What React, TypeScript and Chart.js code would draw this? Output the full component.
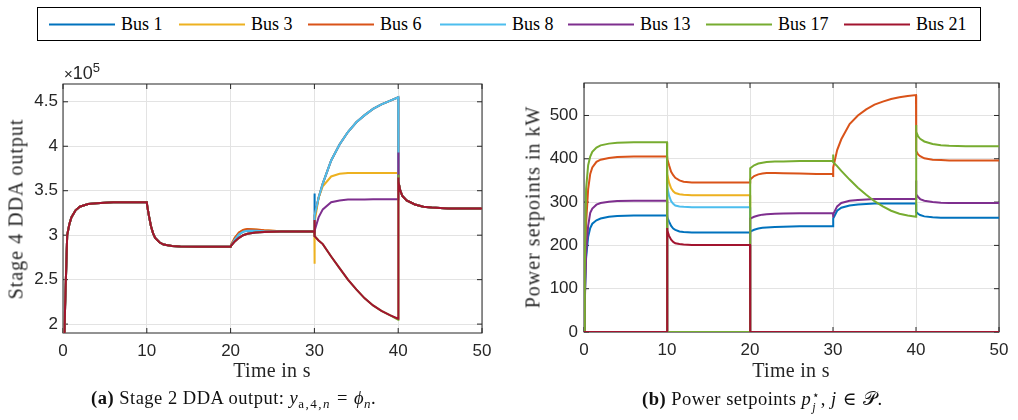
import React, { useEffect, useRef } from "react";
import { Chart, registerables } from "chart.js";

Chart.register(...registerables);

// ---------- data ----------
const TIME = [
  0, 0.1, 0.25, 0.5, 0.75, 1, 1.5, 2, 3, 4, 6, 8, 10,
  10, 10.05, 10.25, 10.5, 10.75, 11, 11.5, 12, 13, 14, 16, 18, 20,
  20, 20.05, 20.5, 21, 21.5, 22, 23, 24, 26, 28, 30,
  30, 30.05, 30.5, 31, 32, 33, 34, 35, 36, 37, 38, 39, 40,
  40, 40.05, 40.25, 40.5, 41, 42, 43, 44, 46, 48, 50,
];

const BUS_NAMES = ["Bus 1", "Bus 3", "Bus 6", "Bus 8", "Bus 13", "Bus 17", "Bus 21"];
const BUS_COLORS = ["#0072BD", "#EDB120", "#D95319", "#4DBEEE", "#7E2F8E", "#77AC30", "#A2142F"];

const X_TICKS = [0, 10, 20, 30, 40, 50];
const DDA_Y_TICKS = [2, 2.5, 3, 3.5, 4, 4.5];
const POWER_Y_TICKS = [0, 100, 200, 300, 400, 500];

// Stage 4 DDA output (x 10^5), by time segment
const DDA_RISE = [1.0, 1.5, 2.2, 3.0, 3.12, 3.2, 3.28, 3.32, 3.35, 3.36, 3.37, 3.37, 3.37];
const DDA_DROP = [3.37, 3.33, 3.22, 3.1, 3.02, 2.97, 2.92, 2.895, 2.878, 2.872, 2.87, 2.87, 2.87];
const DDA_STEP3_SLOW = [2.87, 2.88, 2.93, 2.97, 3.0, 3.015, 3.03, 3.035, 3.04, 3.04, 3.04];
const DDA_STEP3_FAST = [2.87, 2.89, 2.97, 3.03, 3.06, 3.07, 3.065, 3.055, 3.045, 3.04, 3.04];
const DDA_STEP3_MID = [2.87, 2.885, 2.95, 3.01, 3.04, 3.05, 3.05, 3.045, 3.04, 3.04, 3.04];
const DDA_STEP4_BUS1 = [3.47, 3.2, 3.42, 3.58, 3.84, 4.02, 4.16, 4.27, 4.35, 4.42, 4.47, 4.51, 4.55];
const DDA_STEP4_BUS8 = [3.2, 3.22, 3.42, 3.58, 3.84, 4.02, 4.16, 4.27, 4.35, 4.42, 4.47, 4.51, 4.55];
const DDA_STEP4_BUS3 = [2.68, 3.15, 3.42, 3.55, 3.66, 3.69, 3.7, 3.7, 3.7, 3.7, 3.7, 3.7, 3.7];
const DDA_STEP4_BUS6 = [3.2, 3.22, 3.42, 3.58, 3.84, 4.02, 4.16, 4.27, 4.35, 4.42, 4.47, 4.51, 4.55];
const DDA_STEP4_BUS13 = [2.98, 3.05, 3.2, 3.29, 3.37, 3.39, 3.4, 3.4, 3.4, 3.405, 3.405, 3.405, 3.405];
const DDA_STEP4_BUS17 = [3.04, 2.99, 2.94, 2.9, 2.76, 2.63, 2.5, 2.39, 2.29, 2.21, 2.15, 2.1, 2.05];
const DDA_STEP4_BUS21 = [3.17, 2.99, 2.94, 2.9, 2.76, 2.63, 2.5, 2.39, 2.29, 2.21, 2.15, 2.1, 2.06];
const DDA_SETTLE = [3.63, 3.6, 3.5, 3.44, 3.39, 3.345, 3.32, 3.31, 3.3, 3.3, 3.3];
const DDA_SETTLE_BUS13 = [3.93, 3.6, 3.5, 3.44, 3.39, 3.345, 3.32, 3.31, 3.3, 3.3, 3.3];
const DDA_SETTLE_BUS17 = [3.68, 3.6, 3.5, 3.44, 3.39, 3.345, 3.32, 3.31, 3.3, 3.3, 3.3];
const DDA_SETTLE_BUS21 = [3.65, 3.6, 3.5, 3.44, 3.39, 3.345, 3.32, 3.31, 3.3, 3.3, 3.3];

const DDA_BUS1 = [...DDA_RISE, ...DDA_DROP, ...DDA_STEP3_MID, ...DDA_STEP4_BUS1, ...DDA_SETTLE];
const DDA_BUS3 = [...DDA_RISE, ...DDA_DROP, ...DDA_STEP3_FAST, ...DDA_STEP4_BUS3, ...DDA_SETTLE];
const DDA_BUS6 = [...DDA_RISE, ...DDA_DROP, ...DDA_STEP3_FAST, ...DDA_STEP4_BUS6, ...DDA_SETTLE];
const DDA_BUS8 = [...DDA_RISE, ...DDA_DROP, ...DDA_STEP3_MID, ...DDA_STEP4_BUS8, ...DDA_SETTLE];
const DDA_BUS13 = [...DDA_RISE, ...DDA_DROP, ...DDA_STEP3_SLOW, ...DDA_STEP4_BUS13, ...DDA_SETTLE_BUS13];
const DDA_BUS17 = [...DDA_RISE, ...DDA_DROP, ...DDA_STEP3_SLOW, ...DDA_STEP4_BUS17, ...DDA_SETTLE_BUS17];
const DDA_BUS21 = [...DDA_RISE, ...DDA_DROP, ...DDA_STEP3_SLOW, ...DDA_STEP4_BUS21, ...DDA_SETTLE_BUS21];

// Power setpoints in kW
const P_BUS1 = [
  0, 80, 170, 220, 240, 250, 258, 262, 266, 268, 269, 269, 269,
  269, 265, 255, 245, 239, 236, 232, 231, 230, 230, 230, 230, 230,
  230, 232, 236, 239, 240.5, 241.5, 242.5, 243, 244, 244, 244,
  256, 262, 280, 287, 292, 294.5, 295.5, 296.5, 296.5, 296.5, 296.5, 296.5, 296.5,
  280, 277, 273, 270, 267, 265, 264, 264, 264, 264, 264,
];
const P_BUS3 = [
  0, 0, 0, 0, 0, 0, 0, 0, 0, 0, 0, 0, 0,
  375, 365, 345, 332, 325, 321, 318, 317, 316, 316, 316, 316, 316,
  0, 0, 0, 0, 0, 0, 0, 0, 0, 0, 0,
  0, 0, 0, 0, 0, 0, 0, 0, 0, 0, 0, 0, 0,
  0, 0, 0, 0, 0, 0, 0, 0, 0, 0, 0,
];
const P_BUS6 = [
  0, 100, 250, 330, 365, 380, 393, 398, 402, 404, 405, 405, 405,
  405, 400, 385, 370, 362, 356, 350, 347, 345.5, 345, 345, 345, 345,
  348, 352, 360, 364, 366, 367, 367, 366.5, 366, 365, 365,
  358, 380, 420, 445, 480, 500, 514, 525, 532, 538, 542, 545, 547,
  425, 418, 410, 406, 401, 398, 397, 396, 396, 396, 396,
];
const P_BUS8 = [
  0, 0, 0, 0, 0, 0, 0, 0, 0, 0, 0, 0, 0,
  345, 335, 315, 302, 296, 292, 290, 289, 288, 288, 288, 288, 288,
  0, 0, 0, 0, 0, 0, 0, 0, 0, 0, 0,
  0, 0, 0, 0, 0, 0, 0, 0, 0, 0, 0, 0, 0,
  0, 0, 0, 0, 0, 0, 0, 0, 0, 0, 0,
];
const P_BUS13 = [
  0, 70, 180, 245, 275, 285, 294, 298, 301, 302.5, 303, 303, 303,
  0, 0, 0, 0, 0, 0, 0, 0, 0, 0, 0, 0, 0,
  258, 262, 266, 269, 271, 272, 273, 273.5, 274, 274, 274,
  265, 272, 290, 298, 303, 305, 306, 307, 307, 307, 307, 307, 307,
  350, 318, 312, 307, 303, 300, 298.5, 298, 298, 298, 298,
];
const P_BUS17 = [
  0, 150, 330, 385, 405, 416, 426, 431, 435, 437, 438, 438, 438,
  0, 0, 0, 0, 0, 0, 0, 0, 0, 0, 0, 0, 0,
  372, 378, 385, 389, 391, 392.5, 393.5, 394, 395, 395, 395,
  410, 392, 383, 372, 352, 333, 317, 302, 290, 280, 273, 269, 266,
  478, 462, 452, 446, 440, 434, 431.5, 430, 429, 429, 429,
];
const P_BUS21 = [
  0, 0, 0, 0, 0, 0, 0, 0, 0, 0, 0, 0, 0,
  240, 235, 222, 213, 208, 205, 203, 202, 201, 201, 201, 201, 201,
  0, 0, 0, 0, 0, 0, 0, 0, 0, 0, 0,
  0, 0, 0, 0, 0, 0, 0, 0, 0, 0, 0, 0, 0,
  0, 0, 0, 0, 0, 0, 0, 0, 0, 0, 0,
];

const DDA_SERIES = [DDA_BUS1, DDA_BUS3, DDA_BUS6, DDA_BUS8, DDA_BUS13, DDA_BUS17, DDA_BUS21];
const POWER_SERIES = [P_BUS1, P_BUS3, P_BUS6, P_BUS8, P_BUS13, P_BUS17, P_BUS21];

// ---------- styling ----------
const AXIS_COLOR = "#262626";
const GRID_COLOR = "#e3e3e3";
const SERIF = "'Liberation Serif', 'DejaVu Serif', serif";
const SANS = "'Liberation Sans', Arial, sans-serif";
const LEGEND_LINE_LEFT = [49, 179, 308, 440, 568, 706, 844];

const matlabAxes = {
  id: "matlabAxes",
  beforeDatasetsDraw(chart: any) {
    const { ctx, chartArea: a, scales } = chart;
    const L = 5;
    ctx.save();
    ctx.strokeStyle = AXIS_COLOR;
    ctx.lineWidth = 1;
    ctx.beginPath();
    scales.x.ticks.forEach((t: any) => {
      const px = scales.x.getPixelForValue(t.value);
      ctx.moveTo(px, a.bottom);
      ctx.lineTo(px, a.bottom - L);
      ctx.moveTo(px, a.top);
      ctx.lineTo(px, a.top + L);
    });
    scales.y.ticks.forEach((t: any) => {
      const py = scales.y.getPixelForValue(t.value);
      ctx.moveTo(a.left, py);
      ctx.lineTo(a.left + L, py);
      ctx.moveTo(a.right, py);
      ctx.lineTo(a.right - L, py);
    });
    ctx.stroke();
    ctx.strokeRect(a.left, a.top, a.right - a.left, a.bottom - a.top);
    ctx.restore();
  },
};

type PanelProps = {
  left: number;
  top: number;
  width: number;
  height: number;
  series: number[][];
  yTicks: number[];
  yMin: number;
  yMax: number;
  yWidth: number;
  xHeight: number;
  padTop: number;
  padRight: number;
  yPad: number;
};

function Panel(p: PanelProps) {
  const ref = useRef<HTMLCanvasElement | null>(null);
  useEffect(() => {
    if (!ref.current) return;
    const datasets = p.series.map((vals, i) => ({
      label: BUS_NAMES[i],
      data: TIME.map((t, k) => ({ x: t, y: vals[k] })),
      borderColor: BUS_COLORS[i],
      backgroundColor: BUS_COLORS[i],
      borderWidth: 2,
      pointRadius: 0,
      fill: false,
      tension: 0,
      order: BUS_NAMES.length - i,
    }));
    const chart = new Chart(ref.current, {
      type: "line",
      data: { datasets },
      plugins: [matlabAxes],
      options: {
        animation: false,
        responsive: false,
        maintainAspectRatio: false,
        layout: { padding: { top: p.padTop, right: p.padRight, left: 0, bottom: 0 } },
        plugins: { legend: { display: false }, tooltip: { enabled: false } },
        scales: {
          x: {
            type: "linear",
            min: 0,
            max: 50,
            afterBuildTicks: (s: any) => {
              s.ticks = X_TICKS.map((v) => ({ value: v }));
            },
            afterFit: (s: any) => {
              s.height = p.xHeight;
            },
            grid: { color: GRID_COLOR, drawTicks: false, lineWidth: 1 },
            border: { display: false },
            ticks: {
              padding: 8,
              color: AXIS_COLOR,
              font: { family: SANS, size: 17 },
              maxRotation: 0,
              autoSkip: false,
              callback: (v: any) => String(v),
            },
          },
          y: {
            type: "linear",
            min: p.yMin,
            max: p.yMax,
            afterBuildTicks: (s: any) => {
              s.ticks = p.yTicks.map((v) => ({ value: v }));
            },
            afterFit: (s: any) => {
              s.width = p.yWidth;
            },
            grid: { color: GRID_COLOR, drawTicks: false, lineWidth: 1 },
            border: { display: false },
            ticks: {
              padding: p.yPad,
              color: AXIS_COLOR,
              font: { family: SANS, size: 17 },
              autoSkip: false,
              callback: (v: any) => String(v),
            },
          },
        },
      } as any,
    });
    return () => chart.destroy();
  }, []);
  return (
    <canvas
      ref={ref}
      width={p.width}
      height={p.height}
      style={{ position: "absolute", left: p.left, top: p.top, width: p.width, height: p.height }}
    />
  );
}

const abs = (extra: React.CSSProperties): React.CSSProperties => ({ position: "absolute", ...extra });

const captionStyle = (left: number): React.CSSProperties =>
  abs({
    left,
    top: 400,
    transform: "translateY(-50%)",
    fontFamily: SERIF,
    fontSize: 18.5,
    letterSpacing: 0.5,
    whiteSpace: "nowrap",
    color: "#111",
  });

const mathOp: React.CSSProperties = { margin: "0 6px" };

export default function App() {
  return (
    <div
      style={{
        position: "absolute",
        left: 0,
        top: 0,
        width: 1018,
        height: 420,
        background: "#ffffff",
        overflow: "hidden",
        color: "#000",
      }}
    >
      {/* legend */}
      <div
        style={abs({
          left: 37,
          top: 7,
          width: 944,
          height: 34,
          boxSizing: "border-box",
          border: "1px solid #000",
        })}
      />
      {BUS_NAMES.map((name, i) => (
        <div
          key={name}
          style={abs({
            left: LEGEND_LINE_LEFT[i],
            top: 24,
            transform: "translateY(-50%)",
            display: "flex",
            alignItems: "center",
            fontFamily: SERIF,
            fontSize: 18,
            whiteSpace: "nowrap",
          })}
        >
          <div style={{ width: 66, height: 2, background: BUS_COLORS[i], marginRight: 6 }} />
          <span>{name}</span>
        </div>
      ))}

      {/* left panel */}
      <Panel
        left={0}
        top={60}
        width={500}
        height={300}
        series={DDA_SERIES}
        yTicks={DDA_Y_TICKS}
        yMin={1.9}
        yMax={4.7}
        yWidth={63}
        xHeight={27}
        padTop={24}
        padRight={18}
        yPad={5}
      />
      <div style={abs({ left: 64, top: 64, fontFamily: SANS, fontSize: 18, color: AXIS_COLOR, lineHeight: "18px", whiteSpace: "nowrap" })}>
        <span style={{ fontSize: 15 }}>×</span>10<sup style={{ fontSize: 13, verticalAlign: "7px", lineHeight: 0 }}>5</sup>
      </div>
      <div
        style={abs({
          left: 16,
          top: 209,
          transform: "translate(-50%, -50%) rotate(-90deg)",
          fontFamily: SERIF,
          fontSize: 20,
          whiteSpace: "nowrap",
          color: AXIS_COLOR,
          letterSpacing: 1,
        })}
      >
        Stage 4 DDA output
      </div>
      <div style={abs({ left: 272, top: 370, transform: "translate(-50%, -50%)", fontFamily: SERIF, fontSize: 20, letterSpacing: 0.3, whiteSpace: "nowrap", color: AXIS_COLOR })}>
        Time in s
      </div>
      <div style={captionStyle(91)}>
        <b>(a)</b> Stage 2 DDA output: <i>y</i>
        <sub style={{ fontSize: 13, letterSpacing: 1.5 }}>
          a,4,<i>n</i>
        </sub>
        <span style={mathOp}>=</span>
        <i>ϕ</i>
        <sub style={{ fontSize: 13 }}>
          <i>n</i>
        </sub>
        .
      </div>

      {/* right panel */}
      <Panel
        left={510}
        top={60}
        width={508}
        height={300}
        series={POWER_SERIES}
        yTicks={POWER_Y_TICKS}
        yMin={0}
        yMax={575}
        yWidth={74}
        xHeight={28}
        padTop={23}
        padRight={19}
        yPad={6}
      />
      <div
        style={abs({
          left: 533,
          top: 207,
          transform: "translate(-50%, -50%) rotate(-90deg)",
          fontFamily: SERIF,
          fontSize: 20,
          whiteSpace: "nowrap",
          color: AXIS_COLOR,
          letterSpacing: 1,
        })}
      >
        Power setpoints in kW
      </div>
      <div style={abs({ left: 791, top: 370, transform: "translate(-50%, -50%)", fontFamily: SERIF, fontSize: 20, letterSpacing: 0.3, whiteSpace: "nowrap", color: AXIS_COLOR })}>
        Time in s
      </div>
      <div style={captionStyle(642)}>
        <b>(b)</b> Power setpoints <i>p</i>
        <span style={{ display: "inline-flex", flexDirection: "column", verticalAlign: "middle", fontSize: 12, lineHeight: "12px", marginLeft: 1 }}>
          <span>⋆</span>
          <i>j</i>
        </span>
        , <i>j</i>
        <span style={mathOp}>∈</span>
        𝒫.
      </div>
    </div>
  );
}
